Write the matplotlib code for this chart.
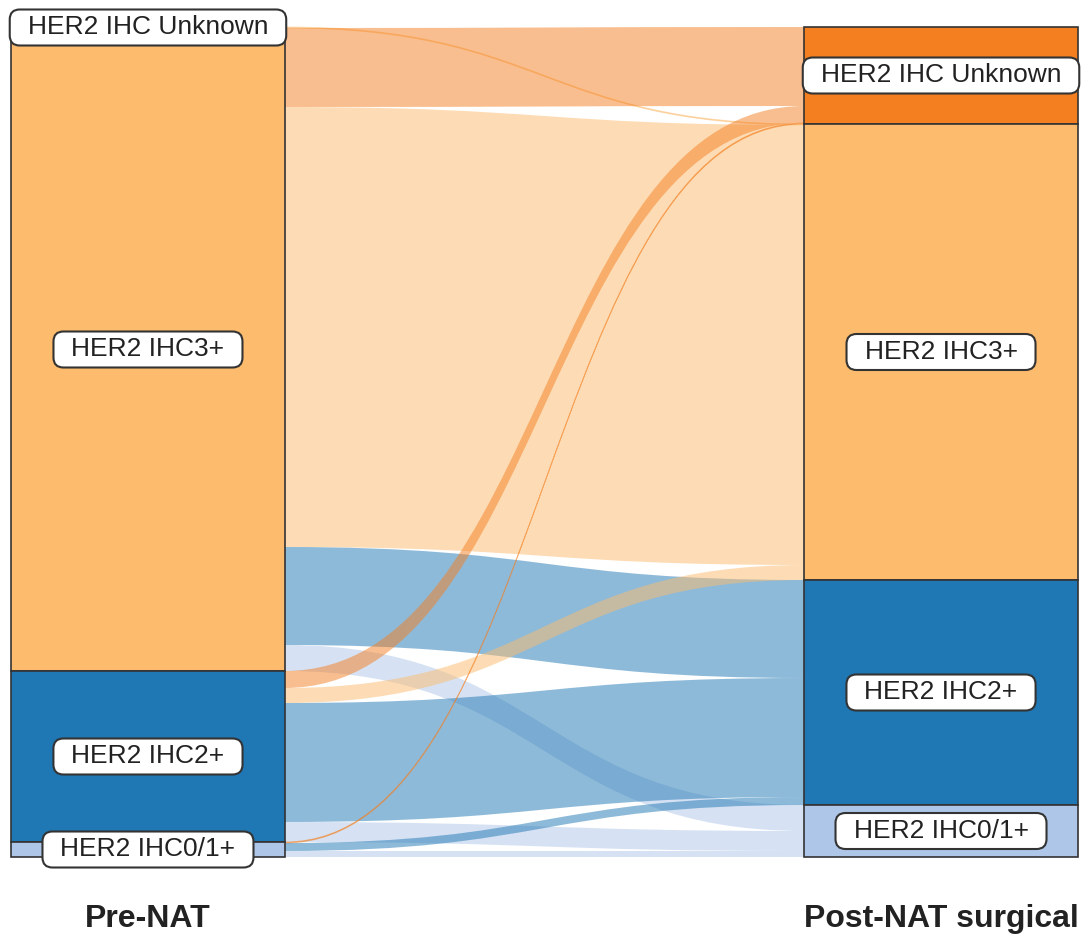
import matplotlib
matplotlib.use("Agg")
import matplotlib.pyplot as plt
from matplotlib.patches import Rectangle, PathPatch, FancyBboxPatch
from matplotlib.path import Path
from matplotlib.transforms import IdentityTransform

plt.rcParams['font.family'] = ['Liberation Sans', 'DejaVu Sans']

# categories (top to bottom) and their colours
categories = ["HER2 IHC Unknown", "HER2 IHC3+", "HER2 IHC2+", "HER2 IHC0/1+"]
cat_colors = ["#f47f20", "#fcbb6d", "#1f77b4", "#aec7e8"]
stages = ["Pre-NAT", "Post-NAT surgical"]

# flows: pre-NAT status -> post-NAT status, number of cases
pre_nat = ["HER2 IHC Unknown",
           "HER2 IHC3+", "HER2 IHC3+", "HER2 IHC3+", "HER2 IHC3+",
           "HER2 IHC2+", "HER2 IHC2+", "HER2 IHC2+", "HER2 IHC2+",
           "HER2 IHC0/1+", "HER2 IHC0/1+", "HER2 IHC0/1+"]
post_nat = ["HER2 IHC3+",
            "HER2 IHC Unknown", "HER2 IHC3+", "HER2 IHC2+", "HER2 IHC0/1+",
            "HER2 IHC Unknown", "HER2 IHC3+", "HER2 IHC2+", "HER2 IHC0/1+",
            "HER2 IHC Unknown", "HER2 IHC2+", "HER2 IHC0/1+"]
n_cases = [1, 79, 440, 98, 26, 17, 15, 119, 20, 1, 8, 6]

color_of = dict(zip(categories, cat_colors))
order = {c: i for i, c in enumerate(categories)}

fig = plt.figure(figsize=(10.84, 9.39), dpi=100)
ax = fig.add_axes([0, 0, 1, 1])
ax.set_xlim(-0.1866, 1.1803)
ax.set_ylim(912, -27)
ax.axis('off')

bar_w = 0.3443
xs = [0, 1]


def node_spans(values):
    totals = {c: 0 for c in categories}
    for c, v in values:
        totals[c] += v
    spans, y = {}, 0
    for c in categories:
        spans[c] = (y, y + totals[c])
        y += totals[c]
    return spans


left_spans = node_spans(zip(pre_nat, n_cases))
right_spans = node_spans(zip(post_nat, n_cases))

# position of every flow inside its source and target node
idx = list(range(len(n_cases)))
left_pos, right_pos = {}, {}
for c in categories:
    y = left_spans[c][0]
    for i in sorted([i for i in idx if pre_nat[i] == c], key=lambda i: order[post_nat[i]]):
        left_pos[i] = (y, y + n_cases[i])
        y += n_cases[i]
    y = right_spans[c][0]
    for i in sorted([i for i in idx if post_nat[i] == c], key=lambda i: order[pre_nat[i]]):
        right_pos[i] = (y, y + n_cases[i])
        y += n_cases[i]

x0 = xs[0] + bar_w / 2
x1 = xs[1] - bar_w / 2
xm = (x0 + x1) / 2
for i in idx:
    a0, a1 = left_pos[i]
    b0, b1 = right_pos[i]
    verts = [(x0, a0), (xm, a0), (xm, b0), (x1, b0),
             (x1, b1), (xm, b1), (xm, a1), (x0, a1), (x0, a0)]
    codes = [Path.MOVETO, Path.CURVE4, Path.CURVE4, Path.CURVE4,
             Path.LINETO, Path.CURVE4, Path.CURVE4, Path.CURVE4, Path.CLOSEPOLY]
    thin = n_cases[i] <= 2
    ax.add_patch(PathPatch(Path(verts, codes), fc=color_of[post_nat[i]],
                           ec=color_of[post_nat[i]] if thin else 'none',
                           lw=0.6 if thin else 0, alpha=0.5, zorder=1))

labels = []
for x, spans in zip(xs, [left_spans, right_spans]):
    for c in categories:
        top, bot = spans[c]
        ax.add_patch(Rectangle((x - bar_w / 2, top), bar_w, bot - top,
                               fc=color_of[c], ec='#333333', lw=1.2, zorder=2))
        t = ax.text(x, (top + bot) / 2, c, ha='center', va='center',
                    fontsize=19, color='#222222', zorder=5)
        labels.append(t)

for x, s in zip(xs, stages):
    ax.text(x, 892, s, ha='center', va='center', fontsize=23,
            fontweight='bold', color='#222222')

# rounded white label boxes, sized from the rendered text
fig.canvas.draw()
r = fig.canvas.get_renderer()
for t in labels:
    bb = t.get_window_extent(r)
    cy = (bb.y0 + bb.y1) / 2
    box = FancyBboxPatch((bb.x0 - 18, cy - 18), bb.width + 36, 36,
                         boxstyle="round,pad=0,rounding_size=10",
                         fc='white', ec='#333333', lw=1.5, zorder=4)
    box.set_transform(IdentityTransform())
    ax.add_patch(box)

fig.savefig("out.png", dpi=100)
